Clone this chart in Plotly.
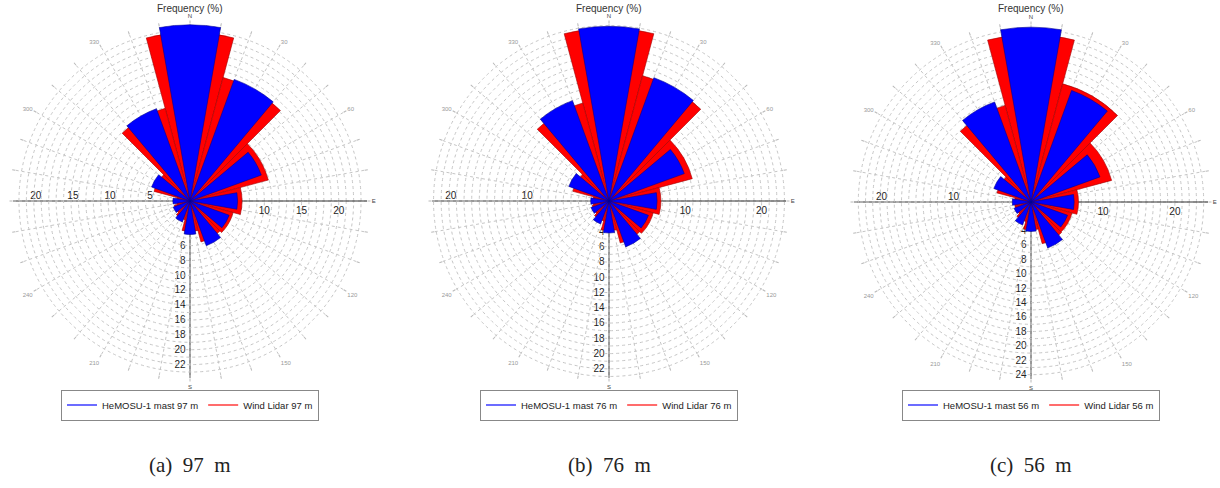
import plotly.graph_objects as go

# ---- data (frequency %, 12 direction sectors, clockwise from North) ----
directions = [0, 30, 60, 90, 120, 150, 180, 210, 240, 270, 300, 330]

mast_97 = [23.7, 17.4, 10.2, 6.4, 5.6, 6.4, 4.5, 3.0, 2.4, 2.3, 5.5, 13.2]
lidar_97 = [22.7, 17.2, 10.9, 7.0, 6.0, 5.7, 4.1, 2.6, 2.2, 1.8, 5.0, 12.9]

mast_76 = [22.9, 17.2, 10.5, 6.3, 5.5, 6.4, 4.2, 3.2, 2.5, 2.4, 5.6, 14.0]
lidar_76 = [22.7, 17.0, 11.3, 6.8, 6.0, 5.7, 3.9, 2.7, 2.3, 2.1, 4.9, 13.3]

mast_56 = [24.3, 16.5, 10.2, 6.0, 5.4, 6.8, 4.1, 3.4, 2.5, 2.6, 5.5, 14.8]
lidar_56 = [23.3, 17.0, 11.6, 6.6, 5.9, 6.0, 3.9, 2.8, 2.3, 2.3, 4.9, 13.9]

heights = ["97", "76", "56"]
captions = ["(a)", "(b)", "(c)"]
radial_max = [23.8, 23.2, 24.6]
east_labels = [[10, 15, 20], [10, 20], [10, 20]]
west_labels = [[5, 10, 15, 20], [10, 20], [10, 20]]
south_labels = [list(range(6, 23, 2)), list(range(4, 23, 2)), list(range(4, 25, 2))]
angular_label_text = {0: "N", 30: "30", 60: "60", 90: "E", 120: "120", 150: "150",
                      180: "S", 210: "210", 240: "240", 270: "", 300: "300", 330: "330"}

mast_series = [mast_97, mast_76, mast_56]
lidar_series = [lidar_97, lidar_76, lidar_56]

# ---- layout geometry ----
W, H = 1220, 488
R = 177
centers = [(190, 201), (609, 201), (1031, 202)]
FONT = "Arial, Liberation Sans, sans-serif"
GRID = "#c6c6c6"

fig = go.Figure()
layout = dict(
    width=W, height=H, margin=dict(l=0, r=0, t=0, b=0, pad=0),
    paper_bgcolor="white", plot_bgcolor="white", showlegend=True,
    font=dict(family=FONT, color="#222"),
)
annotations = []


def pid(n):
    return "polar" if n == 1 else f"polar{n}"


for i in range(3):
    cx, cy = centers[i]
    dom = dict(x=[(cx - R) / W, (cx + R) / W], y=[(H - cy - R) / H, (H - cy + R) / H])
    rmax = radial_max[i]
    n_w, n_s, n_m = 3 * i + 1, 3 * i + 2, 3 * i + 3
    legend_id = "legend" if i == 0 else f"legend{i + 1}"

    # dummy traces so the axis-only subplots exist
    for n in (n_w, n_s):
        fig.add_trace(go.Scatterpolar(r=[0], theta=[0], mode="markers",
                                      marker=dict(opacity=0), showlegend=False,
                                      hoverinfo="skip", subplot=pid(n)))

    # west radial axis
    layout[pid(n_w)] = dict(
        domain=dom, bgcolor="rgba(0,0,0,0)",
        angularaxis=dict(visible=False, rotation=90, direction="clockwise"),
        radialaxis=dict(range=[0, rmax], angle=180, tickangle=180, side="clockwise",
                        showgrid=False, showline=True, linecolor="#333", linewidth=1,
                        ticks="", tickvals=west_labels[i],
                        ticktext=[str(v) for v in west_labels[i]],
                        tickfont=dict(size=10, color="#222", family=FONT)),
    )
    # south radial axis
    layout[pid(n_s)] = dict(
        domain=dom, bgcolor="rgba(0,0,0,0)",
        angularaxis=dict(visible=False, rotation=90, direction="clockwise"),
        radialaxis=dict(range=[0, rmax], angle=270, tickangle=-90, side="clockwise",
                        showgrid=False, showline=True, linecolor="#333", linewidth=1,
                        ticks="", tickvals=south_labels[i],
                        ticktext=[str(v) for v in south_labels[i]],
                        tickfont=dict(size=10, color="#222", family=FONT)),
    )

    # main subplot: grid, east axis, bars
    grid_vals = list(range(1, int(rmax) + 1))
    ang_vals = list(range(0, 360, 10))
    ang_text = []
    for a in ang_vals:
        t = angular_label_text.get(a, "")
        if t in ("N", "E", "S"):
            t = f"<span style='color:#444'>{t}</span>"
        ang_text.append(t)
    layout[pid(n_m)] = dict(
        domain=dom, bgcolor="rgba(0,0,0,0)", barmode="overlay",
        angularaxis=dict(rotation=90, direction="clockwise", tickmode="array",
                         tickvals=ang_vals, ticktext=ang_text,
                         showgrid=True, gridcolor=GRID, griddash="dot", gridwidth=1,
                         showline=False, ticks="outside", ticklen=3, tickcolor="#b8b8b8",
                         tickfont=dict(size=6, color="#999", family=FONT),
                         layer="below traces"),
        radialaxis=dict(range=[0, rmax], angle=0, side="clockwise", tickmode="array",
                        tickvals=grid_vals,
                        ticktext=[str(v) if v in east_labels[i] else "" for v in grid_vals],
                        showgrid=True, gridcolor=GRID, griddash="dot", gridwidth=1,
                        showline=True, linecolor="#333", linewidth=1, ticks="",
                        tickfont=dict(size=10, color="#222", family=FONT),
                        layer="below traces"),
    )

    fig.add_trace(go.Barpolar(r=lidar_series[i], theta=directions, width=30,
                              marker=dict(color="#ff0000", line=dict(color="#a00000", width=0.6)),
                              showlegend=False, subplot=pid(n_m),
                              name=f"Wind Lidar {heights[i]} m"))
    fig.add_trace(go.Barpolar(r=mast_series[i], theta=directions, width=20,
                              marker=dict(color="#0000ff", line=dict(color="#000090", width=0.6)),
                              showlegend=False, subplot=pid(n_m),
                              name=f"HeMOSU-1 mast {heights[i]} m"))
    # legend entries (line symbols)
    fig.add_trace(go.Scatterpolar(r=[0], theta=[0], mode="lines",
                                  line=dict(color="#3b3bff", width=1.5),
                                  name=f"HeMOSU-1 mast {heights[i]} m",
                                  subplot=pid(n_m), legend=legend_id, hoverinfo="skip"))
    fig.add_trace(go.Scatterpolar(r=[0], theta=[0], mode="lines",
                                  line=dict(color="#ff3b3b", width=1.5),
                                  name=f"Wind Lidar {heights[i]} m",
                                  subplot=pid(n_m), legend=legend_id, hoverinfo="skip"))

    layout[legend_id] = dict(
        x=cx / W, y=(H - 405) / H, xanchor="center", yanchor="middle",
        orientation="h", bordercolor="#888", borderwidth=1, bgcolor="white",
        font=dict(size=9.5, family=FONT, color="#222"), itemwidth=30,
    )

    annotations.append(dict(text="Frequency (%)", x=cx / W, y=(H - 9) / H,
                            xref="paper", yref="paper", showarrow=False,
                            xanchor="center", yanchor="middle",
                            font=dict(size=10, family=FONT, color="#333")))
    annotations.append(dict(text=f"{captions[i]}\u00a0 {heights[i]}\u00a0 m",
                            x=cx / W, y=(H - 465) / H, xref="paper", yref="paper",
                            showarrow=False, xanchor="center", yanchor="middle",
                            font=dict(size=21, family="Times New Roman, Liberation Serif, serif",
                                      color="#222")))

layout["annotations"] = annotations
fig.update_layout(**layout)
fig.write_html("out.html")
